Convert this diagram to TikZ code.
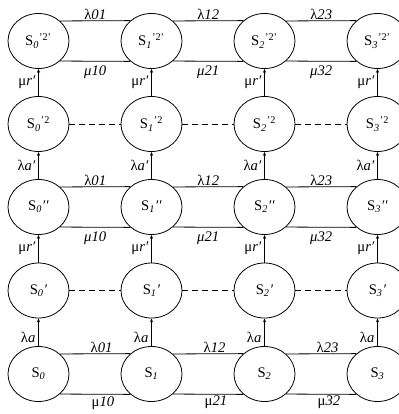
\documentclass[tikz,border=0pt]{standalone}
\usepackage{fontspec}
\setmainfont{Liberation Serif}
\usetikzlibrary{shapes.geometric,arrows.meta}
\begin{document}
\begin{tikzpicture}[x=0.75pt,y=-0.75pt,font=\fontsize{11}{13}\selectfont,
  st/.style={draw,ellipse,line width=0.6pt,minimum width=45.75pt,minimum height=41.25pt,inner sep=0pt},
  ln/.style={line width=0.6pt},
  dsh/.style={line width=0.6pt,dash pattern=on 4.5pt off 3pt},
  arr/.style={line width=0.6pt,-{Stealth[length=3pt,width=2.4pt]}},
  up/.style={above,inner sep=0.5pt},
  dn/.style={below,inner sep=3.2pt},
  lf/.style={left,inner sep=2pt}]
\useasboundingbox (0,0) rectangle (399,414);
% nodes
\foreach \i/\x in {0/38.5,1/151.5,2/264.5,3/377.5}{
  \node[st] (a\i) at (\x,41) {S\textsubscript{\textit{\i}}\textsuperscript{’2’}};
  \node[st] (b\i) at (\x,124) {S\textsubscript{\textit{\i}}\textsuperscript{’2}};
  \node[st] (c\i) at (\x,207) {S\textsubscript{\textit{\i}}\textit{′′}};
  \node[st] (d\i) at (\x,290.5) {S\textsubscript{\textit{\i}}\textit{′}};
  \node[st] (e\i) at (\x,374) {S\textsubscript{\textit{\i}}};
}
% horizontal solid pairs
\foreach \r in {a,c}{
  \draw[ln] (\r0.43.7) -- node[up]{λ\textit{01}} (\r1.136.3);
  \draw[ln] (\r0.-43.7) -- node[dn]{\textit{μ10}} (\r1.-136.3);
  \draw[ln] (\r1.43.7) -- node[up]{λ\textit{12}} (\r2.136.3);
  \draw[ln] (\r1.-43.7) -- node[dn]{\textit{μ21}} (\r2.-136.3);
  \draw[ln] (\r2.43.7) -- node[up]{λ\textit{23}} (\r3.136.3);
  \draw[ln] (\r2.-43.7) -- node[dn]{\textit{μ32}} (\r3.-136.3);
}
\draw[ln] (e0.43.7) -- node[up,pos=0.59]{λ\textit{01}} (e1.136.3);
\draw[ln] (e0.-43.7) -- node[dn,pos=0.61,inner sep=1.2pt]{μ\textit{10}} (e1.-136.3);
\draw[ln] (e1.43.7) -- node[up,pos=0.59]{λ\textit{12}} (e2.136.3);
\draw[ln] (e1.-43.7) -- node[dn,pos=0.61,inner sep=1.2pt]{μ\textit{21}} (e2.-136.3);
\draw[ln] (e2.43.7) -- node[up,pos=0.59]{λ\textit{23}} (e3.136.3);
\draw[ln] (e2.-43.7) -- node[dn,pos=0.61,inner sep=1.2pt]{μ\textit{32}} (e3.-136.3);
% dashed
\foreach \r in {b,d}{
  \draw[dsh] (\r0.east) -- (\r1.west);
  \draw[dsh] (\r1.east) -- (\r2.west);
  \draw[dsh] (\r2.east) -- (\r3.west);
}
% vertical arrows
\foreach \i in {0,1,2,3}{
  \draw[arr] (b\i.north) -- node[lf]{μ\textit{r′}} (a\i.south);
  \draw[arr] (c\i.north) -- node[lf]{λ\textit{a′}} (b\i.south);
  \draw[arr] (d\i.north) -- node[lf]{μ\textit{r′}} (c\i.south);
  \draw[arr] (e\i.north) -- node[lf,pos=0.3]{λ\textit{a}} (d\i.south);
}
\end{tikzpicture}
\end{document}
